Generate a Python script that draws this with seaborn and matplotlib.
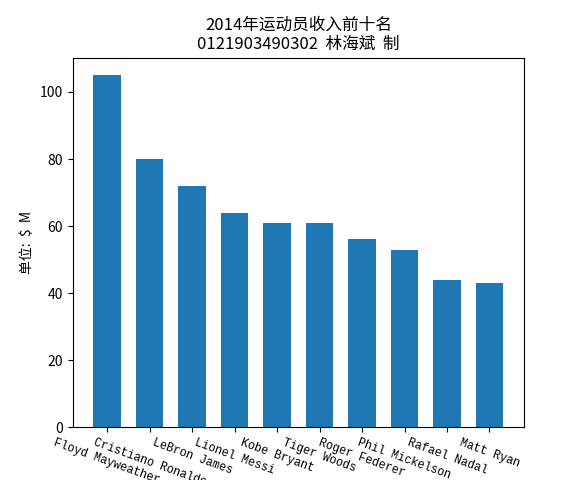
import matplotlib
matplotlib.use('Agg')
import matplotlib.pyplot as plt
import seaborn as sns
import pandas as pd

# data
athletes = ['Floyd Mayweather', 'Cristiano Ronaldo', 'LeBron James', 'Lionel Messi',
            'Kobe Bryant', 'Tiger Woods', 'Roger Federer', 'Phil Mickelson',
            'Rafael Nadal', 'Matt Ryan']
earnings = [105, 80, 72, 64, 61, 61, 56, 53, 44, 43]

plt.rcParams['font.family'] = ['Noto Sans CJK SC', 'DejaVu Sans']
plt.rcParams['axes.unicode_minus'] = False

df = pd.DataFrame({'name': athletes, 'income': earnings})

fig, ax = plt.subplots(figsize=(5.82, 4.8), dpi=100)
bar_w = 0.65
sns.barplot(data=df, x='name', y='income', color='#1f77b4', saturation=1,
            width=bar_w, ax=ax)

# mimic matplotlib default margins on the category axis
n = len(athletes)
span = n - 1 + bar_w
ax.set_xlim(-bar_w / 2 - 0.05 * span, n - 1 + bar_w / 2 + 0.05 * span)
ax.set_ylim(0, max(earnings) * 1.05)
ax.set_yticks([0, 20, 40, 60, 80, 100])

ax.set_xlabel('')
ax.set_ylabel('单位:  $  M')
ax.set_title('2014年运动员收入前十名\n0121903490302  林海斌  制')
ax.tick_params(axis='x', labelrotation=-20)
for lab in ax.get_xticklabels():
    lab.set_family(['Liberation Mono', 'DejaVu Sans Mono'])
    lab.set_fontsize(8.5)
    lab.set_ha('center')

fig.subplots_adjust(left=0.125, right=0.9, top=0.88, bottom=0.11)
plt.savefig('out.png', dpi=100)
plt.close()
